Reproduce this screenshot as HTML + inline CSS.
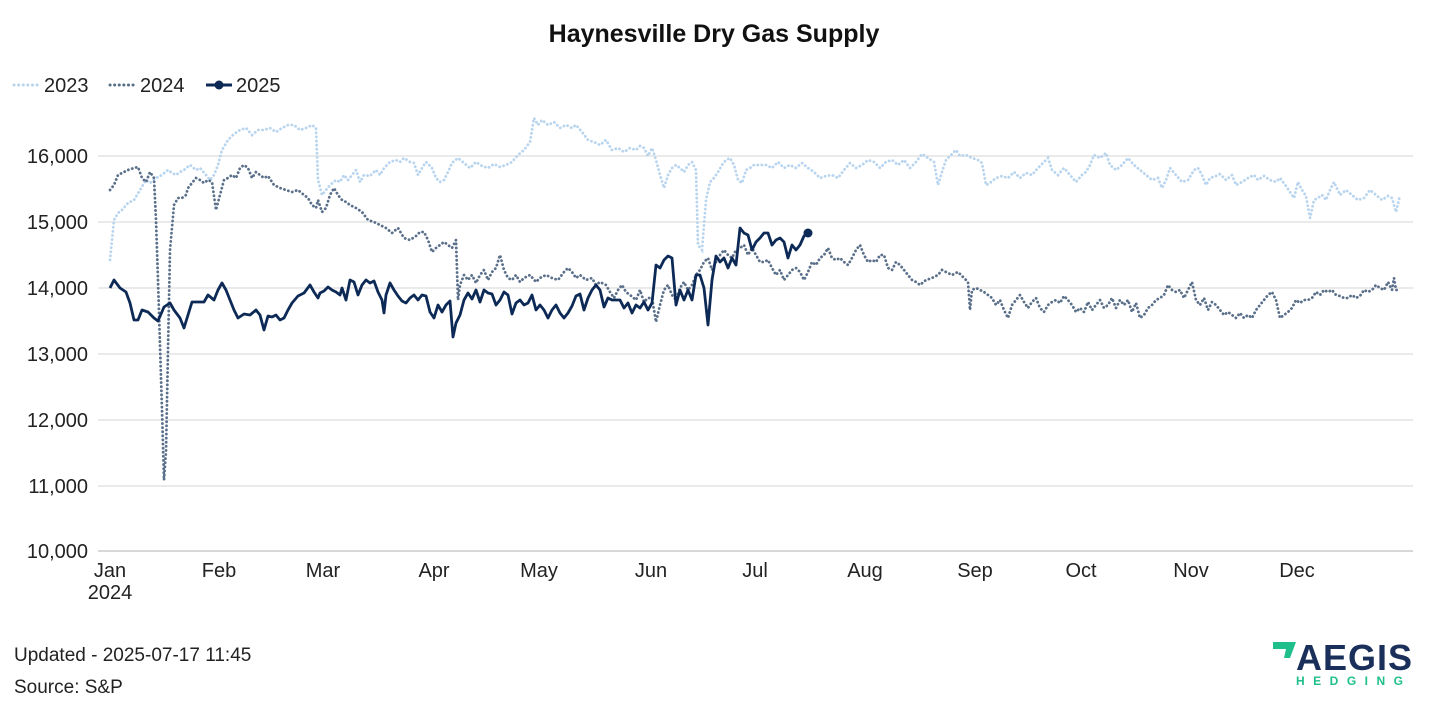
<!DOCTYPE html><html><head><meta charset="utf-8"><style>
body{margin:0;background:#fff;width:1429px;height:713px;overflow:hidden;font-family:"Liberation Sans",sans-serif}
</style></head><body>
<svg width="1429" height="713" xmlns="http://www.w3.org/2000/svg" font-family="Liberation Sans, sans-serif">
<text x="714" y="42" text-anchor="middle" font-size="25" font-weight="bold" fill="#111">Haynesville Dry Gas Supply</text>
<g font-size="20" fill="#222">
<line x1="14" y1="85" x2="40" y2="85" stroke="#b8d4ee" stroke-width="3" stroke-dasharray="0.1 4.5" stroke-linecap="round"/><text x="44" y="92">2023</text>
<line x1="110" y1="85" x2="136" y2="85" stroke="#5a6f8a" stroke-width="3" stroke-dasharray="0.1 4.5" stroke-linecap="round"/><text x="140" y="92">2024</text>
<line x1="206" y1="85" x2="232" y2="85" stroke="#0d2a57" stroke-width="3"/><circle cx="219" cy="85" r="4.5" fill="#0d2a57"/><text x="236" y="92">2025</text>
</g>
<g stroke="#e3e3e3" stroke-width="1.5">
<line x1="98" x2="1413" y1="156" y2="156"/><line x1="98" x2="1413" y1="222" y2="222"/><line x1="98" x2="1413" y1="288" y2="288"/><line x1="98" x2="1413" y1="354" y2="354"/><line x1="98" x2="1413" y1="420" y2="420"/><line x1="98" x2="1413" y1="486" y2="486"/>
</g>
<line x1="98" x2="1413" y1="551" y2="551" stroke="#ccc" stroke-width="1.5"/>
<g font-size="20" fill="#222" text-anchor="end">
<text x="88" y="163">16,000</text><text x="88" y="229">15,000</text><text x="88" y="295">14,000</text><text x="88" y="361">13,000</text><text x="88" y="427">12,000</text><text x="88" y="493">11,000</text><text x="88" y="558">10,000</text>
</g>
<g font-size="20" fill="#222" text-anchor="middle">
<text x="110" y="577">Jan</text><text x="110" y="599">2024</text><text x="219" y="577">Feb</text><text x="323" y="577">Mar</text><text x="434" y="577">Apr</text><text x="539" y="577">May</text><text x="651" y="577">Jun</text><text x="755" y="577">Jul</text><text x="865" y="577">Aug</text><text x="975" y="577">Sep</text><text x="1081" y="577">Oct</text><text x="1191" y="577">Nov</text><text x="1297" y="577">Dec</text>
</g>
<polyline fill="none" stroke="#b8d4ee" stroke-width="2.8" stroke-dasharray="0.1 4" stroke-linecap="round" points="110,260 114,220 118,213 122,210 128,203 134,200 140,190 146,180 150,183 156,178 162,175 168,170 172,173 176,175 180,172 184,170 190,165 196,170 200,168 206,175 210,180 214,175 218,165 222,150 228,140 234,134 240,130 246,128 252,135 258,130 264,130 270,128 276,132 282,128 288,125 294,125 300,130 306,128 312,125 316,128 318,180 322,195 326,190 330,185 336,180 340,182 344,175 348,180 352,175 356,170 360,182 364,175 370,176 376,170 380,175 384,168 390,162 396,160 400,162 404,158 410,162 414,163 418,175 422,168 426,162 432,168 436,178 440,182 444,180 448,172 452,163 458,158 464,163 470,168 476,162 482,166 488,168 494,164 500,167 506,165 512,162 518,155 524,150 530,142 534,118 538,125 542,120 548,125 554,122 560,128 566,125 572,128 576,125 582,132 588,140 594,142 600,145 606,140 612,150 618,148 624,152 630,148 636,150 640,146 644,148 648,156 652,148 656,160 660,175 664,188 668,175 672,168 676,165 680,168 684,172 688,165 692,162 696,170 698,245 702,250 706,200 710,182 714,178 718,172 722,165 726,160 730,158 734,165 738,180 742,183 746,170 750,168 754,165 760,165 766,165 772,168 778,162 784,168 790,165 796,168 802,163 808,168 814,172 820,178 826,176 832,175 838,178 844,170 850,163 856,168 862,165 868,160 874,162 880,168 886,162 892,160 898,165 904,160 910,168 916,162 922,154 928,158 934,162 938,185 942,172 946,160 950,156 956,150 960,156 966,155 972,158 978,160 982,163 986,185 990,183 996,178 1002,176 1008,178 1014,172 1020,178 1026,173 1032,175 1038,168 1044,162 1048,158 1052,170 1058,175 1064,168 1070,175 1076,182 1082,175 1086,172 1090,165 1094,155 1100,158 1106,153 1110,165 1116,170 1122,165 1128,158 1134,165 1140,170 1146,175 1152,180 1158,178 1162,188 1166,180 1170,168 1176,175 1182,182 1188,180 1194,170 1198,168 1202,175 1206,185 1210,178 1216,176 1220,174 1226,180 1232,175 1236,185 1242,182 1248,178 1254,175 1258,180 1264,176 1270,180 1276,182 1280,178 1286,186 1290,192 1294,198 1298,182 1302,190 1306,196 1310,218 1314,200 1318,198 1322,195 1326,200 1330,190 1334,182 1340,195 1346,190 1352,195 1358,200 1364,198 1370,190 1376,195 1382,200 1388,196 1392,198 1396,212 1400,195"/>
<polyline fill="none" stroke="#5a6f8a" stroke-width="2.8" stroke-dasharray="0.1 4" stroke-linecap="round" points="110,190 114,185 118,175 124,172 128,170 134,168 138,167 142,178 146,182 150,172 154,178 156,220 158,280 160,345 162,410 164,480 166,452 168,350 170,250 174,205 178,198 182,198 186,195 188,188 192,183 196,178 200,180 204,183 208,180 212,182 216,210 220,195 224,180 228,178 232,175 236,178 240,168 244,165 248,168 252,178 256,172 260,175 264,178 268,176 274,185 280,188 286,190 292,192 298,190 304,195 308,198 312,205 316,208 318,200 322,212 326,208 330,195 334,188 338,195 342,200 346,202 350,205 356,208 362,212 368,220 374,222 380,225 386,228 392,233 398,228 404,238 410,240 416,236 420,232 424,232 428,240 432,252 436,248 440,245 444,242 448,245 452,248 456,240 458,300 460,285 464,275 468,280 472,275 476,283 480,275 484,270 488,280 492,272 496,268 500,255 504,270 508,278 512,280 516,275 520,282 524,278 530,275 536,282 540,278 546,275 552,278 558,280 564,272 568,268 572,272 576,278 580,275 586,280 592,278 596,285 600,282 606,285 610,292 614,298 618,290 622,285 626,292 630,295 636,300 640,290 644,302 648,298 652,298 656,322 660,305 664,290 668,285 672,295 676,300 680,288 684,282 688,290 692,285 696,275 700,270 704,262 708,258 712,270 716,262 720,255 724,250 728,255 732,258 736,250 740,248 744,245 748,255 752,248 756,255 760,262 764,262 768,260 772,268 776,275 780,270 784,280 788,275 792,270 796,268 800,272 804,280 808,272 812,262 816,265 820,258 824,255 828,248 832,258 836,260 840,258 844,262 848,265 852,258 856,250 860,245 864,255 868,262 872,260 876,262 880,255 884,255 888,268 892,270 896,262 900,265 904,270 908,275 912,280 916,282 920,285 926,280 932,278 938,275 942,270 946,272 952,275 958,272 964,278 968,282 970,310 972,290 976,288 980,290 984,292 988,295 992,298 996,305 1000,300 1004,310 1008,318 1012,305 1016,300 1020,295 1024,302 1028,308 1032,302 1036,298 1040,308 1044,312 1048,305 1052,302 1056,300 1060,303 1064,296 1068,300 1072,305 1076,312 1080,308 1084,312 1088,302 1092,310 1096,305 1100,300 1104,308 1108,305 1112,298 1116,308 1120,300 1124,305 1128,300 1132,312 1136,303 1140,318 1144,315 1148,308 1152,305 1156,300 1160,298 1164,295 1168,285 1172,290 1176,292 1180,290 1184,298 1188,290 1192,282 1196,300 1200,305 1204,298 1208,310 1212,302 1216,305 1220,310 1224,315 1228,312 1232,315 1236,318 1240,313 1244,318 1248,315 1252,318 1256,310 1260,305 1264,300 1268,295 1272,292 1276,300 1280,318 1284,315 1288,312 1292,308 1296,300 1300,303 1304,300 1308,300 1312,298 1316,292 1320,295 1324,290 1328,292 1332,290 1336,295 1340,296 1344,298 1348,298 1352,295 1356,298 1360,296 1364,290 1368,292 1372,290 1376,285 1380,288 1384,290 1388,282 1392,290 1394,278 1396,290 1400,290"/>
<polyline fill="none" stroke="#0d2a57" stroke-width="2.8" stroke-linejoin="round" points="110,288 114,280 120,288 126,292 130,303 134,320 138,320 142,310 148,312 154,318 158,321 164,307 170,303 174,310 180,318 184,328 188,315 192,302 198,302 204,302 208,295 214,300 218,290 222,283 226,290 230,300 234,310 238,318 244,314 250,315 256,310 260,315 264,330 268,316 272,317 276,315 280,320 284,318 288,310 292,303 298,296 304,293 310,285 314,292 318,298 320,293 324,291 328,287 332,290 336,292 340,295 342,288 346,300 350,280 354,282 358,295 362,285 366,280 370,283 374,281 378,292 382,300 384,313 386,295 390,283 394,290 398,296 402,301 406,303 410,298 414,295 418,300 422,295 426,296 430,312 434,318 438,305 442,312 446,305 450,301 453,337 456,323 460,315 464,300 468,293 472,299 476,290 480,302 484,290 488,293 492,294 496,305 500,300 504,292 508,295 512,314 516,303 520,300 524,305 528,303 532,295 536,310 540,305 544,310 548,318 552,310 556,305 560,313 564,318 568,313 572,306 576,296 580,294 584,310 588,298 592,290 596,285 600,290 604,307 608,298 612,300 616,300 620,300 624,308 628,303 632,313 636,305 640,308 644,302 648,310 652,303 656,265 660,268 664,260 668,256 672,258 676,305 680,290 684,300 688,290 692,300 696,275 700,275 704,288 708,325 712,280 716,256 720,262 724,258 728,268 732,258 736,265 740,228 744,233 748,235 752,250 756,242 760,238 764,233 768,233 772,245 776,240 780,238 784,242 788,258 792,245 796,250 800,245 804,236 808,233"/>
<circle cx="808" cy="233" r="4.5" fill="#0d2a57"/>
<g font-size="19" fill="#222"><text x="14" y="661">Updated - 2025-07-17 11:45</text><text x="14" y="693">Source: S&amp;P</text></g>
<polygon points="1273,642 1296,642 1290,658 1284,658 1286,649 1273,649" fill="#1fbf8c"/>
<text x="1296" y="670" font-size="36" font-weight="bold" fill="#1a2f5a" letter-spacing="1">AEGIS</text>
<text x="1296" y="685" font-size="12" font-weight="bold" fill="#1fbf8c" letter-spacing="8.5">HEDGING</text>
</svg>
</body></html>
